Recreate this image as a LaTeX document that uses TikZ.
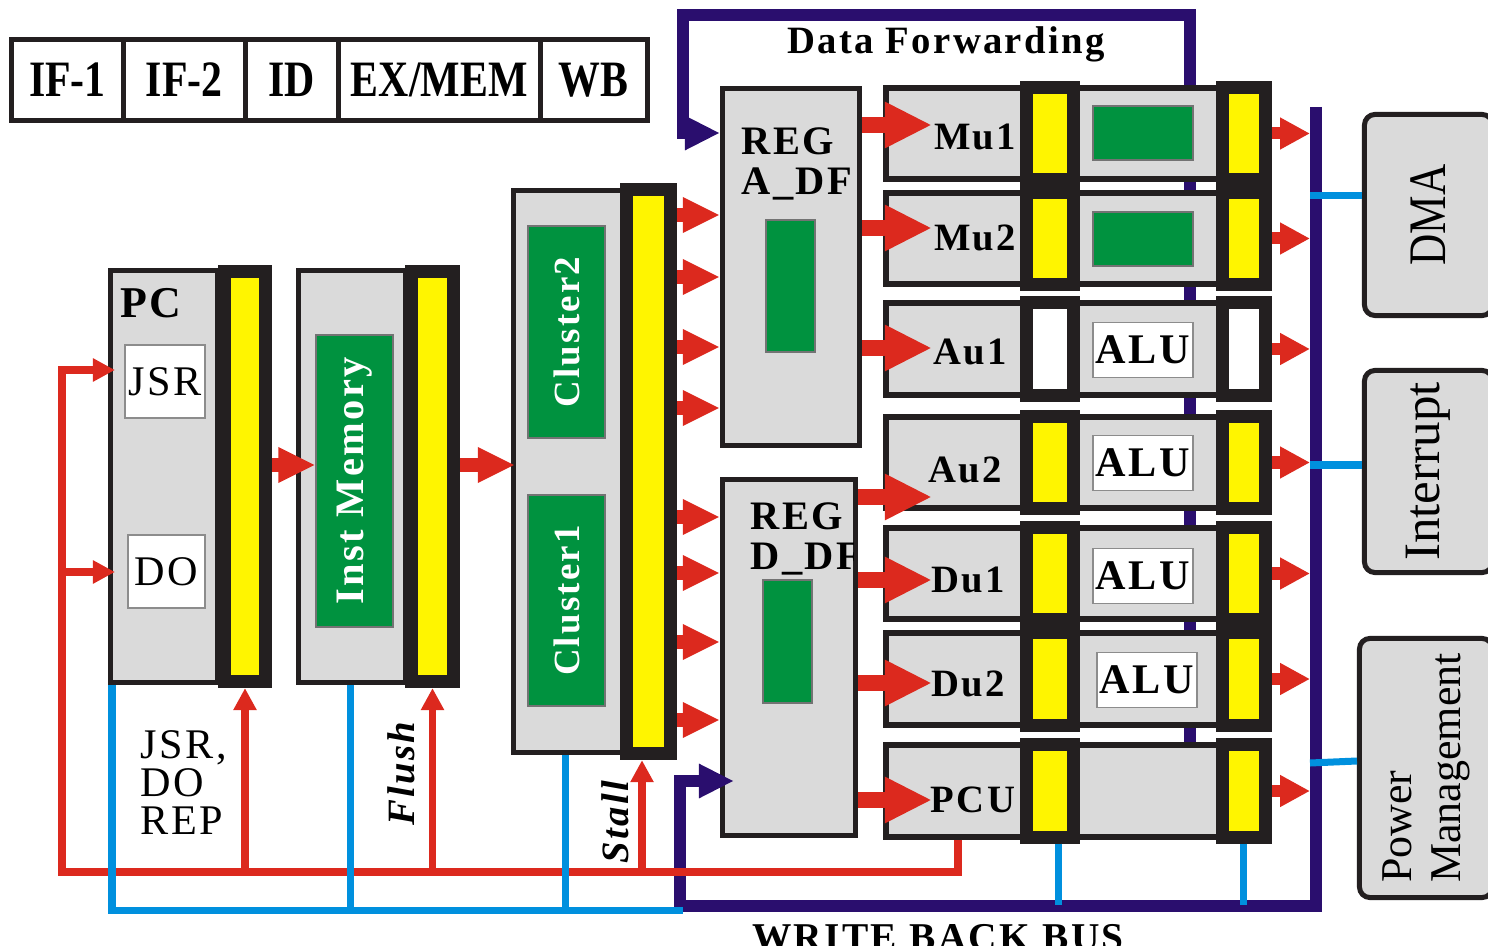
\documentclass[tikz,border=0pt]{standalone}
\usepackage{fontspec}
\setmainfont{Liberation Serif}
\newfontfamily\stagefont[FakeStretch=0.82]{Liberation Serif}
\newfontfamily\spacedfont[LetterSpace=6]{Liberation Serif}
\usetikzlibrary{arrows.meta, positioning, calc}
\definecolor{blockgray}{RGB}{218,218,218}
\definecolor{regblack}{RGB}{35,31,32}
\definecolor{regyellow}{RGB}{255,245,0}
\definecolor{cellgreen}{RGB}{0,146,63}
\definecolor{ctrlred}{RGB}{220,41,30}
\definecolor{busnavy}{RGB}{42,14,110}
\definecolor{wireblue}{RGB}{0,144,222}
\tikzset{
  block/.style={rectangle, draw=regblack, fill=blockgray, line width=0.05cm, inner sep=0pt},
  pipereg/.style={rectangle, draw=regblack, fill=regyellow, line width=0.13cm, inner sep=0pt},
  cellbox/.style={rectangle, draw=black!55, fill=cellgreen, line width=0.4pt, inner sep=0pt},
  whitebox/.style={rectangle, draw=black!45, fill=white, line width=0.5pt, inner sep=0pt},
  stagecell/.style={rectangle, draw=regblack, line width=0.05cm, outer sep=0pt, minimum height=0.8cm,
    inner sep=0pt, font=\stagefont\fontsize{14.5}{15}\selectfont\bfseries},
  sidebox/.style={block, rounded corners=3pt, rotate=90},
  unitlabel/.style={font=\spacedfont\fontsize{11}{11}\selectfont\bfseries, inner sep=0pt},
  plainlabel/.style={font=\spacedfont\fontsize{12}{12}\selectfont, inner sep=0pt},
  bigarrow/.style={-{Triangle[length=0.47cm, width=0.43cm]}, line width=0.16cm, draw=ctrlred},
  midarrow/.style={-{Triangle[length=0.37cm, width=0.33cm]}, line width=0.14cm, draw=ctrlred},
  outarrow/.style={-{Triangle[length=0.3cm, width=0.3cm]}, line width=0.12cm, draw=ctrlred},
  ctrlwire/.style={line width=0.075cm, draw=ctrlred},
  ctrlarrow/.style={ctrlwire, -{Triangle[length=0.22cm, width=0.22cm]}},
  bluewire/.style={line width=0.07cm, draw=wireblue},
  busline/.style={line width=0.12cm, draw=busnavy},
  busarrow/.style={busline, -{Triangle[length=0.35cm, width=0.32cm]}},
}
\begin{document}
\begin{tikzpicture}[x=0.01cm, y=-0.01cm]
  \useasboundingbox (0,0) rectangle (1488,946);

  % pipeline stages
  \node[stagecell, minimum width=1.11cm] (if1) at (67.5,80) {IF-1};
  \node[stagecell, minimum width=1.22cm, right=0pt of if1] (if2) {IF-2};
  \node[stagecell, minimum width=0.93cm, right=0pt of if2] (id) {ID};
  \node[stagecell, minimum width=2.02cm, right=0pt of id] (exmem) {EX/MEM};
  \node[stagecell, minimum width=1.07cm, right=0pt of exmem] (wb) {WB};

  % fetch
  \node[block, minimum width=1.07cm, minimum height=4.12cm] (pc) at (164,476.5) {};
  \node[pipereg, minimum width=0.41cm, minimum height=4.1cm] (pcreg) at (245,476.5) {};
  \node[plainlabel, font=\spacedfont\fontsize{12.5}{12}\selectfont\bfseries] (pclab) at (151,303) {PC};
  \node[whitebox, plainlabel, minimum width=0.8cm, minimum height=0.73cm] (jsr) at (165,381.5) {JSR};
  \node[whitebox, plainlabel, minimum width=0.77cm, minimum height=0.73cm] (do) at (166.5,571.5) {DO};

  \node[block, minimum width=1.07cm, minimum height=4.12cm] (imem) at (352,476.5) {};
  \node[pipereg, minimum width=0.42cm, minimum height=4.1cm] (imreg) at (432.5,476.5) {};
  \node[cellbox, rotate=90, minimum width=2.92cm, minimum height=0.77cm, text=white,
    font=\spacedfont\fontsize{11.5}{12}\selectfont\bfseries] (imcell) at (354.5,481) {Inst Memory};

  % decode
  \node[block, minimum width=1.09cm, minimum height=5.62cm] (cl) at (568,471.5) {};
  \node[pipereg, minimum width=0.44cm, minimum height=5.64cm] (clreg) at (648.5,471.5) {};
  \node[cellbox, rotate=90, minimum width=2.12cm, minimum height=0.77cm, text=white,
    font=\spacedfont\fontsize{10.5}{11}\selectfont\bfseries] (cl2) at (566.5,332) {Cluster2};
  \node[cellbox, rotate=90, minimum width=2.11cm, minimum height=0.77cm, text=white,
    font=\spacedfont\fontsize{10.5}{11}\selectfont\bfseries] (cl1) at (566.5,600.5) {Cluster1};

  % register files
  \node[block, minimum width=1.37cm, minimum height=3.57cm] (rega) at (791,267) {};
  \node[cellbox, minimum width=0.49cm, minimum height=1.32cm] (regacell) at (790.5,286) {};
  \node[unitlabel, font=\spacedfont\fontsize{11.5}{11.5}\selectfont\bfseries, align=left,
    anchor=north west] (regalab) at (741,127) {REG\\A\_DF};
  \node[block, minimum width=1.33cm, minimum height=3.56cm] (regd) at (789,657.5) {};
  \node[cellbox, minimum width=0.49cm, minimum height=1.23cm] (regdcell) at (787.5,641.5) {};
  \begin{scope}
    \clip (regd.south west) rectangle ([xshift=-0.05cm]regd.north east);
    \node[unitlabel, font=\spacedfont\fontsize{11.5}{11.5}\selectfont\bfseries, align=left,
      anchor=north west] (regdlab) at (750,502) {REG\\D\_DF};
  \end{scope}

  % data forwarding, drawn before the units so they hide its lower part
  \draw[busarrow] (1190,745) -- (1190,15) -- (683,15) -- (683,133) -- (rega.west |- 0,133);
  \node[unitlabel, anchor=base] (dflab) at (946,54) {Data Forwarding};

  % execution units
  \foreach \n/\y/\f in {mu1/133.5/regyellow, mu2/238.5/regyellow, au1/349/white,
      au2/462.5/regyellow, du1/573.5/regyellow, du2/679/regyellow, pcu/791/regyellow} {
    \node[block, line width=0.06cm, minimum width=3.83cm, minimum height=0.91cm] (\n) at (1077.5,\y) {};
    \node[pipereg, fill=\f, minimum width=0.47cm, minimum height=0.92cm] (\n-reg1) at (1050,\y) {};
    \node[pipereg, fill=\f, minimum width=0.43cm, minimum height=0.92cm] (\n-reg2) at (1244,\y) {};
  }
  \node[cellbox, minimum width=1cm, minimum height=0.54cm] (mu1-cell) at (1143,133) {};
  \node[cellbox, minimum width=1cm, minimum height=0.54cm] (mu2-cell) at (1143,239) {};
  \foreach \n/\x/\y in {au1/1143/350, au2/1143/463, du1/1143/576, du2/1147/680}
    \node[whitebox, unitlabel, font=\spacedfont\fontsize{12}{12}\selectfont\bfseries,
      minimum width=1cm, minimum height=0.55cm] (\n-alu) at (\x,\y) {ALU};
  \foreach \n/\x/\y/\t in {mu1/975/137/Mu1, mu2/975/238/Mu2, au1/970/352/Au1, au2/965/470/Au2,
      du1/968/580/Du1, du2/968/684/Du2, pcu/973/800/PCU}
    \node[unitlabel] (\n-lab) at (\x,\y) {\t};

  % peripherals (rotated boxes: .north is their left side)
  \node[sidebox, minimum width=2.01cm, minimum height=1.28cm,
    font=\stagefont\fontsize{15}{15}\selectfont] (dma) at (1428.5,215) {DMA};
  \node[sidebox, minimum width=2.02cm, minimum height=1.28cm,
    font=\fontsize{14.5}{15}\selectfont] (intr) at (1428.5,471.5) {Interrupt};
  \node[sidebox, minimum width=2.59cm, minimum height=1.33cm, align=left,
    font=\fontsize{12.5}{14}\selectfont] (pm) at (1426,768) {Power\\Management};

  % data paths
  \draw[midarrow] (pcreg.east |- 0,465) -- (imcell.north |- 0,465);
  \draw[midarrow] (imreg.east |- 0,465) -- ($(cl.west |- 0,465)+(4,0)$);
  \foreach \y in {215,277,347,408}
    \draw[midarrow] (clreg.east |- 0,\y) -- (rega.west |- 0,\y);
  \foreach \y in {517,573,642,720}
    \draw[midarrow] (clreg.east |- 0,\y) -- (regd.west |- 0,\y);
  \foreach \s/\n/\y in {rega/mu1/125, rega/mu2/228, rega/au1/348, regd/au2/497,
      regd/du1/580, regd/du2/683, regd/pcu/800}
    \draw[bigarrow] (\s.east |- 0,\y) -- ($(\n.west |- 0,\y)+(49,0)$);

  % write back bus
  \coordinate (wbtop) at (1316,107);
  \coordinate (wbin) at (1310,107);
  \draw[busarrow] (wbtop) -- (1316,906) -- (680,906) -- (680,781) -- ($(regd.west |- 0,781)+(14,0)$);
  \foreach \n in {mu1,mu2,au1,au2,du1,du2,pcu}
    \draw[outarrow] (\n-reg2.east) -- (\n-reg2.east -| wbin);
  \node[unitlabel, font=\spacedfont\fontsize{11.2}{12}\selectfont\bfseries, anchor=base]
    (wblab) at (938,950) {WRITE BACK BUS};

  % control
  \draw[ctrlarrow] (pcu.south -| 958,0) -- (958,872) -- (62,872) -- (62,370)
    -- ($(pc.west |- 0,370)+(7,0)$);
  \draw[ctrlarrow] (62,572) -- ($(pc.west |- 0,572)+(7,0)$);
  \draw[ctrlarrow] (pcreg.south |- 0,872) -- (pcreg.south);
  \draw[ctrlarrow] (imreg.south |- 0,872) -- (imreg.south);
  \draw[ctrlarrow] (clreg.south -| 642,0) ++(0,112) -- (clreg.south -| 642,0);
  \node[plainlabel, font=\spacedfont\fontsize{12}{10.8}\selectfont, align=left, anchor=north west]
    (jsrlab) at (140,730) {JSR,\\DO\\REP};
  \node[unitlabel, font=\spacedfont\fontsize{11}{11}\selectfont\bfseries\itshape, rotate=90]
    (flushlab) at (401,774) {Flush};
  \node[unitlabel, font=\spacedfont\fontsize{11}{11}\selectfont\bfseries\itshape, rotate=90]
    (stalllab) at (615,822) {Stall};

  % status wires
  \draw[bluewire] (pc.south -| 112,0) -- (112,910) -- (683,910);
  \draw[bluewire] (imem.south -| 350,0) -- (350,910);
  \draw[bluewire] (cl.south -| 565,0) -- (565,910);
  \draw[bluewire] (pcu-reg1.south -| 1058,0) -- (1058,905);
  \draw[bluewire] (pcu-reg2.south -| 1243,0) -- (1243,905);
  \draw[bluewire] (dma.north |- 0,196) -- (wbin |- 0,196);
  \draw[bluewire] (intr.north |- 0,465) -- (wbin |- 0,465);
  \draw[bluewire] (pm.north |- 0,761) -- (wbin |- 0,763);
\end{tikzpicture}
\end{document}
